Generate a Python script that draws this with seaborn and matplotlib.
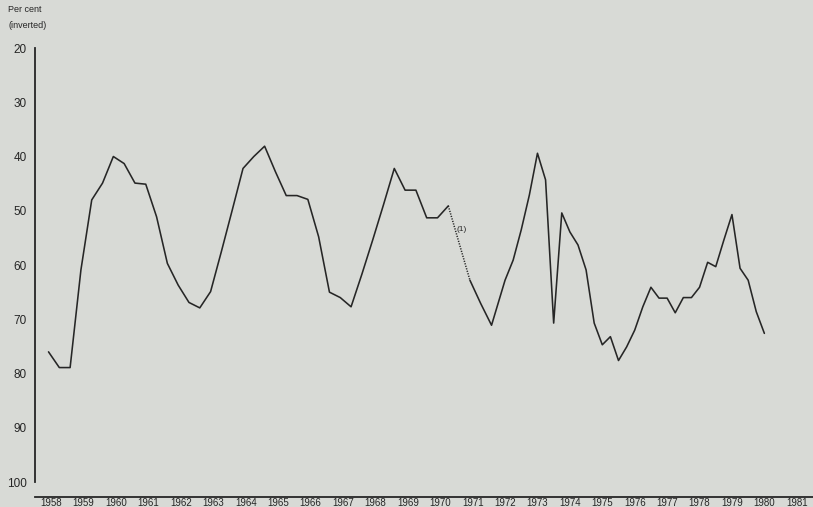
import matplotlib
matplotlib.use("Agg")
import matplotlib.pyplot as plt
import seaborn as sns
import pandas as pd
import numpy as np

# Survey readings, per cent (plotted on an inverted scale)
dates_early = [
    "1958-06", "1958-10", "1959-02", "1959-06", "1959-10",
    "1960-02", "1960-06", "1960-10", "1961-02", "1961-06", "1961-10",
    "1962-02", "1962-06", "1962-10", "1963-02", "1963-06", "1963-10",
    "1964-02", "1964-06", "1964-10", "1965-02", "1965-06", "1965-10",
    "1966-02", "1966-06", "1966-10", "1967-02", "1967-06", "1967-10",
    "1968-02", "1968-06", "1968-10", "1969-02", "1969-06", "1969-10",
    "1970-02", "1970-06", "1970-10",
]
values_early = [
    76.0, 78.9, 78.9, 60.9, 48.0,
    44.9, 40.0, 41.3, 44.9, 45.1, 51.1,
    59.7, 63.7, 66.9, 67.9, 64.9, 57.5,
    49.9, 42.2, 40.0, 38.1, 42.8, 47.2,
    47.2, 47.9, 54.8, 65.0, 66.0, 67.7,
    61.7, 55.4, 48.9, 42.2, 46.2, 46.2,
    51.3, 51.3, 49.1,
]

dates_late = [
    "1971-06", "1971-10", "1972-02", "1972-07", "1972-10",
    "1973-01", "1973-04", "1973-07", "1973-10",
    "1974-01", "1974-04", "1974-07", "1974-10",
    "1975-01", "1975-04", "1975-07", "1975-10",
    "1976-01", "1976-04", "1976-07", "1976-10",
    "1977-01", "1977-04", "1977-07", "1977-10",
    "1978-01", "1978-04", "1978-07", "1978-10",
    "1979-01", "1979-04", "1979-07", "1979-10",
    "1980-01", "1980-04", "1980-07",
]
values_late = [
    62.8, 67.1, 71.1, 62.8, 59.1,
    53.5, 47.1, 39.4, 44.3,
    70.7, 50.4, 53.9, 56.3,
    60.9, 70.7, 74.7, 73.2,
    77.6, 75.1, 72.0, 67.7,
    64.1, 66.1, 66.1, 68.8,
    66.0, 66.0, 64.1, 59.5,
    60.3, 55.4, 50.7, 60.6,
    62.8, 68.6, 72.6,
]

year_labels = [str(y) for y in range(1958, 1982)]
y_ticks = [20, 30, 40, 50, 60, 70, 80, 90, 100]


def to_year(d):
    ts = pd.to_datetime(d)
    return ts.year + (ts.month - 1) / 12.0


early = pd.DataFrame({"t": [to_year(d) for d in dates_early], "v": values_early})
late = pd.DataFrame({"t": [to_year(d) for d in dates_late], "v": values_late})
bridge = pd.concat([early.tail(1), late.head(1)], ignore_index=True)

sns.set_style("white")
plt.rcParams["font.family"] = ["Liberation Sans Narrow", "Liberation Sans", "DejaVu Sans"]

bg = "#d8dad6"
ink = "#262626"

fig = plt.figure(figsize=(8.13, 5.07), dpi=100, facecolor=bg)
ax = fig.add_axes([35 / 813, 10.3 / 507, 778 / 813, 448.7 / 507])
ax.set_facecolor(bg)

sns.lineplot(data=early, x="t", y="v", ax=ax, color=ink, linewidth=1.15, sort=False)
sns.lineplot(data=late, x="t", y="v", ax=ax, color=ink, linewidth=1.15, sort=False)
sns.lineplot(data=bridge, x="t", y="v", ax=ax, color=ink, linewidth=1.1,
             linestyle=(0, (0.8, 0.9)), sort=False)

ax.text(1971.15, 53.4, "(1)", fontsize=6, color=ink, ha="center", va="center")

ax.set_xlim(1958, 1982)
ax.set_ylim(102.7, 20)

for side in ("top", "right"):
    ax.spines[side].set_visible(False)
ax.spines["left"].set_bounds(20, 100)
for side in ("left", "bottom"):
    ax.spines[side].set_color(ink)
    ax.spines[side].set_linewidth(1.3)

ax.set_yticks(y_ticks)
ax.set_yticklabels([str(v) for v in y_ticks])
ax.tick_params(axis="y", direction="out", length=5, width=1.1, color=ink,
               labelsize=8.5, labelcolor=ink, pad=1)

ax.set_xticks(np.arange(1959, 1983))
ax.set_xticklabels([])
ax.set_xticks(np.arange(1958, 1982) + 0.5, minor=True)
ax.set_xticklabels(year_labels, minor=True)
ax.tick_params(axis="x", which="major", direction="out", length=5, width=1.1, color=ink)
ax.tick_params(axis="x", which="minor", length=0, labelsize=7, labelcolor=ink, pad=1)

ax.set_xlabel("")
ax.set_ylabel("")

fig.text(8 / 813, 1 - 10 / 507, "Per cent", fontsize=6.5, color=ink, ha="left", va="center")
fig.text(8 / 813, 1 - 25 / 507, "(inverted)", fontsize=6.5, color=ink, ha="left", va="center")

fig.savefig("out.png", dpi=100, facecolor=bg)
